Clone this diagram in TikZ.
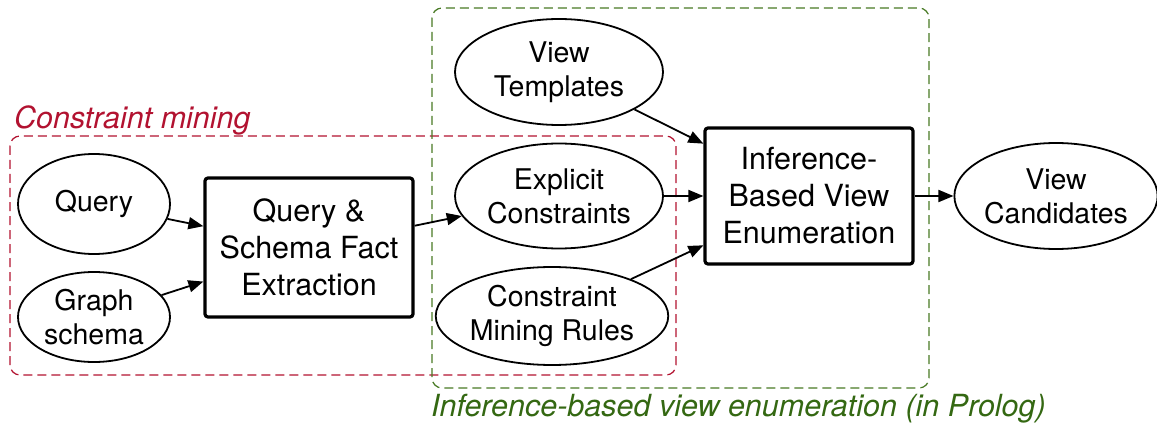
\documentclass[tikz,border=0pt]{standalone}
\usepackage{fontspec}
\setmainfont{TeX Gyre Heros}
\usetikzlibrary{shapes.geometric,arrows.meta}
\definecolor{minered}{RGB}{178,18,48}
\definecolor{infgreen}{RGB}{72,122,36}
\definecolor{infgreentext}{RGB}{52,104,18}
\tikzset{
  oval/.style={ellipse, draw, line width=1.8pt, inner sep=0pt, align=center,
    font=\fontsize{28.5}{34}\selectfont},
  procbox/.style={rectangle, draw, line width=3.2pt, rounded corners=3pt,
    minimum width=205pt, minimum height=136pt, inner sep=0pt, align=center,
    font=\fontsize{30.5}{37}\selectfont},
  flow/.style={line width=1.8pt, -{Triangle[length=15pt,width=12pt]}},
  group/.style={dash pattern=on 9pt off 5pt, line width=1.2pt, rounded corners=10pt},
  grouplabel/.style={font=\fontsize{30.5}{34}\selectfont\itshape, anchor=west, inner sep=0pt}
}
\begin{document}
\begin{tikzpicture}[x=1pt,y=-1pt]
\useasboundingbox (0,0) rectangle (1157,425);

% group frames
\draw[group, minered] (10,136) rectangle (676,375);
\draw[group, infgreen] (432,8) rectangle (929,388);
\node[grouplabel, text=minered] (minelabel) at (14,120) {Constraint mining};
\node[grouplabel, text=infgreentext] (inflabel) at (431,409) {Inference-based view enumeration (in Prolog)};

% inputs
\node[oval, minimum width=152pt, minimum height=100pt] (query) at (94,204) {Query};
\node[oval, minimum width=152pt, minimum height=90pt] (schema) at (94,317) {Graph\\schema};

% fact extraction
\node[procbox, minimum width=208pt, minimum height=139pt] (extract) at (309,247.5) {Query \&\\Schema Fact\\Extraction};

% inference inputs
\node[oval, minimum width=208pt, minimum height=106pt] (templates) at (559,72) {View\\Templates};
\node[oval, minimum width=208pt, minimum height=105pt] (explicit) at (559,196) {Explicit\\Constraints};
\node[oval, minimum width=222pt, minimum height=98pt] (rules) at (552,316) {Constraint\\Mining Rules};

% enumeration
\node[procbox, minimum width=208pt, minimum height=136pt] (enum) at (809,196) {Inference-\\Based View\\Enumeration};

% output
\node[oval, minimum width=198pt, minimum height=106pt] (cands) at (1056,196) {View\\Candidates};

% connectors
\draw[flow] (query) -- (extract);
\draw[flow] (schema) -- (extract);
\draw[flow] (extract) -- (explicit);
\draw[flow] (templates) -- (enum);
\draw[flow] (explicit) -- (enum);
\draw[flow] (rules) -- (enum);
\draw[flow] (enum) -- (cands);
\end{tikzpicture}
\end{document}
